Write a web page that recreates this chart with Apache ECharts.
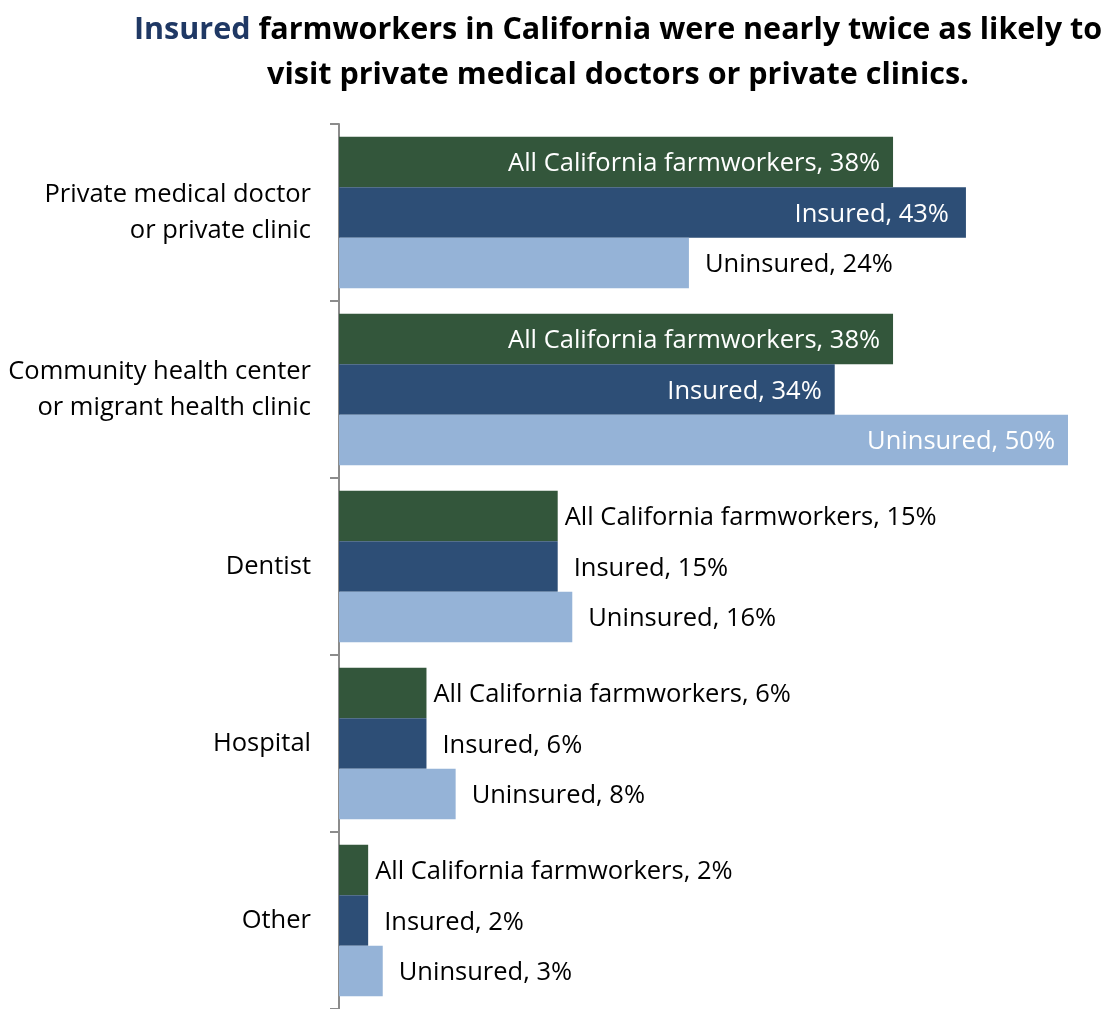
<!DOCTYPE html>
<html>
<head>
<meta charset="utf-8">
<script src="https://cdn.jsdelivr.net/npm/echarts@6/dist/echarts.min.js"></script>
<style>
  html, body { margin: 0; padding: 0; background: #fff; }
  #chart { width: 1108px; height: 1009px; }
</style>
</head>
<body>
<div id="chart"></div>
<script>
// Where farmworkers went for health care, by insurance status (percent)
const categories = [
  'Private medical doctor\nor private clinic',
  'Community health center\nor migrant health clinic',
  'Dentist',
  'Hospital',
  'Other'
];
const seriesNames = ['All California farmworkers', 'Insured', 'Uninsured'];
const allWorkers = [38, 38, 15, 6, 2];
const insured    = [43, 34, 15, 6, 2];
const uninsured  = [24, 50, 16, 8, 3];

const FONT = 'Open Sans';
const colors = ['#33563B', '#2D4E76', '#95B3D7'];
const insideThreshold = 30; // bars at least this long carry their label inside
const outsideGap = [7, 16, 16];

function makeSeries(name, values, idx) {
  return {
    name: name,
    type: 'bar',
    barGap: '0%',
    barCategoryGap: '14.5%',
    itemStyle: { color: colors[idx] },
    data: values.map(v => {
      const inside = v >= insideThreshold;
      return {
        value: v,
        label: inside
          ? { position: 'insideRight', color: '#fff', distance: idx === 1 && v === 43 ? 17 : 13 }
          : { position: 'right', color: '#000', distance: outsideGap[idx] }
      };
    }),
    label: {
      show: true,
      fontFamily: FONT,
      fontSize: 25.5,
      offset: [0, 2],
      formatter: p => name + ', ' + p.value + '%'
    },
    animation: false
  };
}

const chart = echarts.init(document.getElementById('chart'));
chart.setOption({
  animation: false,
  title: {
    left: 613,
    top: 3,
    textAlign: 'center',
    text: '{hi|Insured} farmworkers in California were nearly twice as likely to\nvisit private medical doctors or private clinics.',
    textStyle: {
      fontFamily: FONT,
      fontWeight: 'bold',
      fontSize: 30.5,
      lineHeight: 45,
      color: '#000',
      rich: {
        hi: { fontFamily: FONT, fontWeight: 'bold', fontSize: 30.5, lineHeight: 45, color: '#1F3864' }
      }
    }
  },
  grid: { left: 339, right: 40, top: 124, bottom: -2, containLabel: false },
  xAxis: {
    type: 'value',
    min: 0,
    max: 50,
    show: false
  },
  yAxis: {
    type: 'category',
    inverse: true,
    data: categories,
    axisLine: { show: true, lineStyle: { color: '#8C8C8C', width: 2 } },
    axisTick: { show: true, length: 9, lineStyle: { color: '#8C8C8C', width: 2 } },
    axisLabel: {
      fontFamily: FONT,
      fontSize: 25.5,
      color: '#000',
      margin: 28,
      lineHeight: 36,
      align: 'right'
    }
  },
  series: [
    makeSeries(seriesNames[0], allWorkers, 0),
    makeSeries(seriesNames[1], insured, 1),
    makeSeries(seriesNames[2], uninsured, 2)
  ]
});
</script>
</body>
</html>
